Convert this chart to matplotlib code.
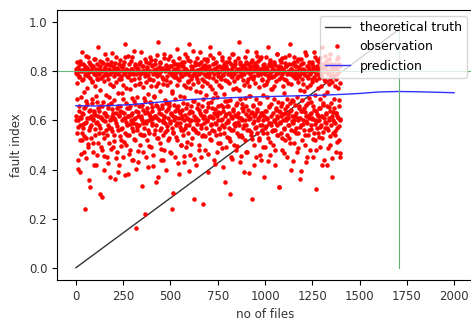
import numpy as np
import matplotlib
matplotlib.use("Agg")
import matplotlib.pyplot as plt

# observed fault index, even-numbered files
obs_even = [
    0.81,0.62,0.79,0.55,0.84,0.60,0.44,0.80,0.66,0.78,0.58,0.83,0.39,0.61,0.80,0.52,0.88,0.63,0.77,0.57,
    0.80,0.47,0.65,0.82,0.59,0.24,0.79,0.68,0.53,0.81,0.61,0.86,0.49,0.78,0.64,0.56,0.80,0.33,0.83,0.62,
    0.58,0.80,0.67,0.76,0.51,0.82,0.60,0.42,0.79,0.63,0.85,0.54,0.81,0.59,0.70,0.77,0.46,0.80,0.62,0.90,
    0.55,0.79,0.64,0.30,0.82,0.57,0.80,0.61,0.48,0.84,0.66,0.78,0.60,0.53,0.81,0.40,0.79,0.63,0.87,0.56,
    0.80,0.62,0.45,0.83,0.58,0.77,0.65,0.81,0.51,0.60,0.79,0.37,0.84,0.67,0.57,0.80,0.62,0.74,0.49,0.82,
    0.61,0.78,0.54,0.80,0.36,0.63,0.86,0.59,0.81,0.47,0.66,0.79,0.56,0.83,0.62,0.42,0.80,0.64,0.52,0.77,
    0.82,0.60,0.71,0.57,0.80,0.45,0.84,0.63,0.79,0.55,0.61,0.91,0.50,0.81,0.65,0.58,0.78,0.38,0.62,0.80,
    0.54,0.83,0.66,0.79,0.48,0.60,0.81,0.57,0.86,0.63,0.44,0.80,0.59,0.77,0.68,0.52,0.82,0.61,0.16,0.79,
    0.64,0.81,0.56,0.43,0.80,0.62,0.75,0.58,0.83,0.50,0.79,0.66,0.61,0.88,0.54,0.80,0.60,0.47,0.82,0.69,
    0.80,0.57,0.22,0.78,0.63,0.84,0.59,0.52,0.81,0.65,0.41,0.80,0.60,0.77,0.55,0.86,0.62,0.80,0.49,0.67,
    0.59,0.82,0.64,0.79,0.46,0.61,0.80,0.70,0.56,0.83,0.62,0.35,0.81,0.58,0.78,0.66,0.92,0.53,0.80,0.60,
    0.79,0.63,0.51,0.84,0.57,0.80,0.44,0.65,0.81,0.60,0.77,0.54,0.87,0.62,0.48,0.80,0.59,0.82,0.67,0.40,
    0.81,0.56,0.78,0.61,0.85,0.53,0.66,0.80,0.59,0.47,0.82,0.63,0.79,0.57,0.72,0.24,0.80,0.62,0.55,0.83,
    0.60,0.79,0.45,0.64,0.81,0.58,0.89,0.52,0.80,0.61,0.77,0.66,0.38,0.83,0.59,0.80,0.63,0.50,0.78,0.56,
    0.82,0.62,0.80,0.54,0.67,0.84,0.43,0.60,0.79,0.57,0.81,0.65,0.49,0.86,0.61,0.80,0.55,0.76,0.63,0.91,
    0.58,0.80,0.64,0.46,0.82,0.60,0.78,0.53,0.81,0.68,0.57,0.79,0.28,0.62,0.84,0.56,0.80,0.61,0.42,0.77,
    0.80,0.65,0.55,0.83,0.60,0.79,0.50,0.88,0.63,0.81,0.58,0.45,0.80,0.66,0.74,0.54,0.82,0.61,0.79,0.59,
    0.62,0.81,0.48,0.78,0.64,0.57,0.85,0.60,0.80,0.39,0.67,0.82,0.55,0.79,0.62,0.90,0.52,0.80,0.58,0.65,
    0.80,0.56,0.83,0.61,0.44,0.79,0.63,0.81,0.59,0.71,0.54,0.84,0.62,0.80,0.47,0.66,0.78,0.60,0.82,0.57,
    0.63,0.80,0.51,0.77,0.60,0.86,0.58,0.81,0.64,0.41,0.79,0.55,0.83,0.62,0.80,0.68,0.49,0.82,0.59,0.76,
    0.81,0.60,0.66,0.79,0.53,0.84,0.57,0.80,0.30,0.62,0.78,0.45,0.87,0.61,0.80,0.56,0.64,0.82,0.50,0.79,
    0.59,0.83,0.62,0.80,0.48,0.67,0.81,0.55,0.78,0.63,0.92,0.58,0.80,0.43,0.61,0.84,0.54,0.79,0.65,0.60,
    0.80,0.57,0.82,0.64,0.39,0.79,0.60,0.86,0.52,0.81,0.66,0.58,0.80,0.47,0.77,0.62,0.83,0.56,0.70,0.80,
    0.61,0.79,0.54,0.84,0.63,0.28,0.80,0.59,0.82,0.66,0.50,0.78,0.62,0.81,0.57,0.88,0.45,0.80,0.64,0.55,
    0.82,0.60,0.79,0.67,0.52,0.80,0.58,0.85,0.62,0.44,0.81,0.56,0.77,0.63,0.80,0.49,0.60,0.83,0.37,0.79,
    0.57,0.80,0.64,0.81,0.55,0.76,0.61,0.90,0.53,0.80,0.66,0.59,0.84,0.46,0.79,0.62,0.82,0.58,0.73,0.80,
    0.63,0.81,0.50,0.78,0.60,0.83,0.56,0.42,0.80,0.65,0.79,0.58,0.87,0.61,0.54,0.80,0.33,0.82,0.64,0.59,
    0.80,0.62,0.84,0.55,0.79,0.67,0.48,0.81,0.60,0.77,0.57,0.80,0.63,0.86,0.52,0.61,0.82,0.45,0.79,0.66,
    0.58,0.80,0.61,0.83,0.53,0.79,0.64,0.91,0.56,0.81,0.40,0.62,0.80,0.59,0.78,0.68,0.51,0.84,0.60,0.80,
    0.82,0.57,0.79,0.63,0.47,0.80,0.60,0.85,0.55,0.81,0.66,0.78,0.61,0.36,0.83,0.58,0.80,0.64,0.52,0.77,
    0.60,0.81,0.56,0.79,0.65,0.88,0.50,0.80,0.62,0.43,0.82,0.59,0.78,0.67,0.54,0.80,0.61,0.84,0.48,0.79,
    0.80,0.63,0.58,0.83,0.61,0.77,0.45,0.81,0.66,0.55,0.80,0.60,0.86,0.52,0.79,0.64,0.32,0.82,0.57,0.62,
    0.79,0.55,0.81,0.60,0.84,0.49,0.65,0.80,0.58,0.78,0.62,0.90,0.53,0.81,0.67,0.44,0.80,0.61,0.76,0.57,
    0.63,0.82,0.59,0.80,0.42,0.66,0.79,0.56,0.85,0.61,0.80,0.50,0.77,0.64,0.83,0.58,0.37,0.81,0.62,0.55,
    0.80,0.60,0.78,0.65,0.54,0.83,0.59,0.81,0.47,0.63,0.79,0.57,0.86,0.61,0.80,0.52,0.66,0.82,0.45,0.60,
]

# observed fault index, odd-numbered files
obs_odd = [
    .603,.795,.688,.752,.574,.817,.402,.638,.776,.521,.842,.615,.465,.805,.697,.548,.763,.626,.829,.587,
    .716,.808,.536,.653,.787,.446,.861,.592,.731,.815,.667,.503,.794,.612,.357,.838,.574,.772,.643,.824,
    .528,.756,.687,.813,.604,.472,.798,.639,.851,.565,.742,.622,.786,.418,.674,.832,.595,.507,.769,.649,
    .809,.583,.726,.657,.844,.491,.773,.613,.289,.802,.676,.548,.833,.632,.762,.457,.817,.598,.705,.788,
    .617,.851,.539,.784,.662,.428,.806,.695,.571,.748,.824,.606,.482,.797,.646,.873,.557,.739,.629,.812,
    .684,.518,.792,.603,.836,.447,.757,.651,.815,.577,.712,.389,.803,.624,.768,.536,.846,.659,.494,.783,
    .566,.819,.634,.745,.688,.825,.512,.611,.799,.376,.858,.594,.733,.671,.806,.542,.777,.618,.862,.465,
    .797,.651,.728,.584,.843,.623,.763,.438,.811,.692,.556,.789,.607,.881,.524,.744,.667,.828,.587,.402,
    .815,.572,.697,.808,.633,.476,.771,.658,.839,.546,.754,.619,.795,.333,.664,.823,.589,.737,.643,.801,
    .539,.788,.681,.851,.598,.758,.453,.817,.636,.706,.784,.562,.834,.627,.497,.769,.676,.845,.604,.742,
    .656,.826,.581,.763,.415,.807,.694,.546,.848,.617,.739,.665,.791,.528,.866,.609,.752,.368,.818,.648,
    .791,.563,.721,.836,.626,.484,.779,.662,.812,.594,.747,.437,.855,.613,.685,.804,.551,.766,.639,.827,
    .577,.743,.815,.645,.519,.798,.673,.864,.598,.758,.469,.821,.627,.712,.786,.555,.843,.306,.776,.661,
    .809,.616,.689,.777,.534,.832,.651,.746,.589,.818,.428,.764,.637,.856,.573,.701,.795,.612,.498,.838,
    .642,.782,.561,.823,.694,.743,.455,.811,.623,.872,.583,.735,.668,.799,.512,.846,.606,.757,.393,.786,
    .733,.597,.841,.658,.768,.506,.816,.634,.749,.565,.885,.679,.794,.441,.827,.603,.718,.781,.551,.853,
    .587,.804,.667,.756,.829,.478,.641,.797,.715,.568,.839,.622,.767,.535,.812,.259,.686,.849,.609,.761,
    .827,.638,.535,.789,.702,.844,.596,.752,.463,.816,.656,.779,.613,.866,.523,.741,.674,.807,.584,.728,
    .614,.853,.692,.771,.557,.809,.645,.423,.835,.626,.762,.587,.819,.697,.508,.793,.633,.876,.566,.744,
    .779,.545,.817,.662,.738,.604,.847,.486,.786,.653,.823,.574,.709,.812,.349,.766,.628,.838,.681,.531,
    .657,.806,.594,.853,.629,.752,.517,.795,.684,.831,.563,.776,.442,.814,.647,.729,.869,.586,.761,.621,
    .843,.579,.732,.663,.801,.497,.774,.615,.856,.592,.723,.808,.538,.687,.829,.611,.455,.782,.669,.818,
    .533,.764,.649,.826,.581,.744,.693,.813,.472,.838,.626,.757,.561,.882,.642,.796,.384,.741,.607,.821,
    .698,.812,.554,.779,.635,.847,.523,.768,.664,.801,.598,.417,.834,.627,.753,.689,.819,.572,.863,.646,
    .785,.608,.842,.527,.736,.672,.809,.458,.791,.631,.857,.583,.765,.703,.824,.549,.743,.619,.812,.491,
    .639,.859,.576,.747,.817,.604,.694,.783,.436,.832,.655,.772,.591,.845,.514,.727,.668,.806,.558,.778,
    .806,.563,.741,.688,.839,.592,.478,.824,.644,.759,.617,.871,.542,.793,.676,.815,.329,.768,.633,.848,
    .594,.776,.659,.818,.527,.853,.627,.739,.801,.566,.713,.467,.836,.648,.764,.603,.822,.688,.541,.797,
    .752,.628,.865,.581,.794,.673,.509,.811,.641,.747,.829,.596,.682,.433,.784,.619,.857,.556,.771,.662,
    .618,.821,.548,.773,.697,.842,.611,.757,.486,.816,.652,.789,.574,.725,.852,.638,.394,.803,.683,.748,
    .834,.587,.719,.806,.633,.541,.786,.664,.868,.599,.738,.452,.823,.617,.775,.692,.812,.563,.746,.628,
    .567,.797,.674,.838,.604,.758,.524,.821,.643,.779,.878,.586,.704,.815,.481,.764,.626,.847,.598,.733,
    .809,.649,.532,.774,.688,.856,.573,.741,.619,.818,.419,.795,.663,.832,.551,.767,.702,.804,.592,.861,
    .625,.762,.842,.571,.716,.793,.487,.829,.656,.748,.603,.872,.538,.786,.671,.815,.447,.757,.636,.822,
    .782,.594,.687,.825,.559,.741,.816,.632,.768,.512,.849,.617,.733,.796,.578,.684,.828,.466,.753,.605,
]

obs_x = np.concatenate([np.arange(len(obs_even)) * 2, np.arange(len(obs_odd)) * 2 + 1])
obs_y = np.concatenate([obs_even, obs_odd])

# fitted prediction curve
pred_x = [0, 100, 200, 300, 400, 500, 600, 700, 800, 900, 1000,
          1100, 1200, 1300, 1400, 1500, 1600, 1700, 1800, 1900, 2000]
pred_y = [0.660, 0.659, 0.661, 0.665, 0.672, 0.679, 0.685, 0.689, 0.692, 0.695, 0.697,
          0.699, 0.701, 0.703, 0.706, 0.710, 0.716, 0.718, 0.717, 0.715, 0.713]

truth_x = [0, 1760]
truth_y = [0.0, 1.0]

n_files = 1710
level = 0.8

fig = plt.figure(figsize=(4.71, 3.2), dpi=100)
ax = fig.add_axes([57/471, 40/320, 416/471, 270/320])

ax.plot(truth_x, truth_y, color='#333333', lw=1, label='theoretical truth')
ax.plot(obs_x, obs_y, 'r.', ms=4.5, label='observation')
ax.plot(pred_x, pred_y, color='#3030ff', lw=1, label='prediction')
ax.axhline(level, color='#66bb7a', lw=0.8)
ax.plot([n_files, n_files], [0, 1.0], color='#5fae72', lw=0.8)

ax.set_xlabel('no of files', fontsize=8.6, color='#333333')
ax.set_ylabel('fault index', fontsize=8.6, color='#333333')
ax.tick_params(labelsize=8.5, labelcolor='#333333')
ax.legend(loc='upper right', fontsize=9)

fig.savefig('out.png', dpi=100)
